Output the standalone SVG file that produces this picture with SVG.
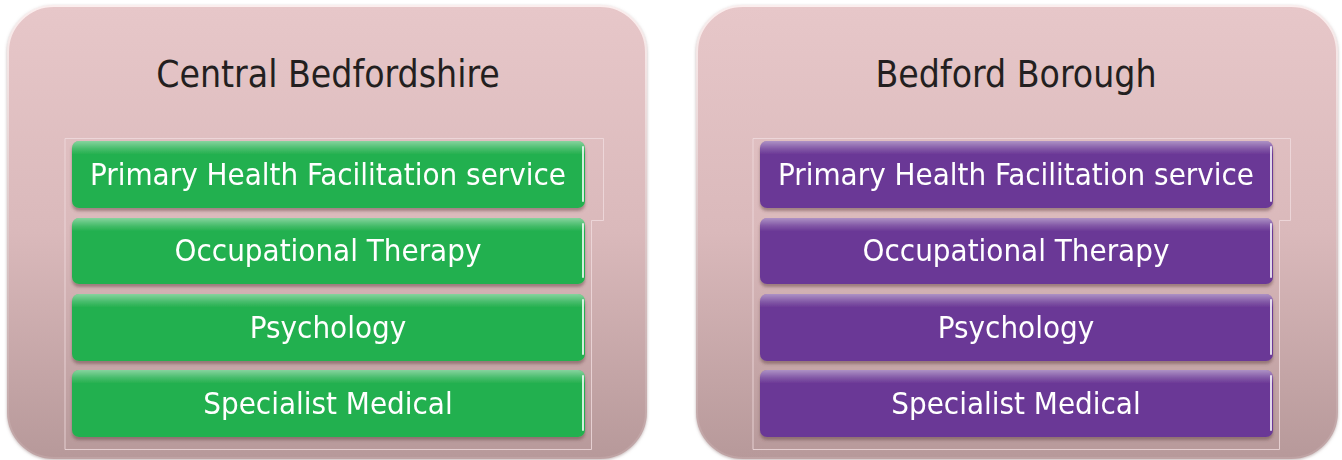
<svg xmlns="http://www.w3.org/2000/svg" width="1342" height="460" viewBox="0 0 1342 460">
  <style>
    .title { font-family: "DejaVu Sans Condensed", "DejaVu Sans", sans-serif; font-size: 37px; fill: #231f20; text-anchor: middle; }
    .label { font-family: "DejaVu Sans Condensed", "DejaVu Sans", sans-serif; font-size: 31px; fill: #ffffff; text-anchor: middle; }
    .frame { fill: none; stroke: #f0dcde; stroke-opacity: 0.8; stroke-width: 1; }
    .green { fill: #24b04f; }
    .purple { fill: #6b3996; }
    .gloss { fill: url(#gloss); }
    .edge { fill: none; stroke: #ffffff; stroke-opacity: 0.8; stroke-width: 2; stroke-linecap: round; }
  </style>
  <defs>
    <linearGradient id="panelFill" x1="0" y1="0" x2="0" y2="1">
      <stop offset="0" stop-color="#e7c7c9"/>
      <stop offset="0.5" stop-color="#dab9bb"/>
      <stop offset="1" stop-color="#b7999a"/>
    </linearGradient>
    <linearGradient id="panelEdge" x1="0" y1="0" x2="0" y2="1">
      <stop offset="0" stop-color="#fbeeee"/>
      <stop offset="1" stop-color="#bfa3a4"/>
    </linearGradient>
    <linearGradient id="gloss" x1="0" y1="0" x2="0" y2="1">
      <stop offset="0" stop-color="#ffffff" stop-opacity="0.45"/>
      <stop offset="0.12" stop-color="#ffffff" stop-opacity="0.15"/>
      <stop offset="0.2" stop-color="#ffffff" stop-opacity="0"/>
      <stop offset="1" stop-color="#ffffff" stop-opacity="0"/>
    </linearGradient>
    <filter id="panelShadow" x="-5%" y="-5%" width="110%" height="110%">
      <feDropShadow dx="0" dy="1" stdDeviation="1.5" flood-color="#8a6f70" flood-opacity="0.5"/>
    </filter>
    <filter id="boxShadow" x="-5%" y="-20%" width="110%" height="150%">
      <feDropShadow dx="0" dy="3" stdDeviation="1.5" flood-color="#5a3a3c" flood-opacity="0.45"/>
    </filter>
  </defs>

  <!-- Central Bedfordshire panel -->
  <g id="central-bedfordshire">
    <rect x="8" y="6" width="638" height="452" rx="46" fill="url(#panelFill)" stroke="url(#panelEdge)" stroke-width="2" filter="url(#panelShadow)"/>
    <text class="title" x="328" y="87">Central Bedfordshire</text>
    <path class="frame" d="M65 138.5 H603.5 V220.5 H591.5 V449.5 H65 Z"/>
  </g>

  <g id="cb-primary-health" filter="url(#boxShadow)">
    <rect class="green" x="72" y="141" width="513" height="67" rx="7"/>
    <rect class="gloss" x="72" y="141" width="513" height="67" rx="7"/>
    <path class="edge" d="M583 147 V201"/>
    <text class="label" x="328" y="185">Primary Health Facilitation service</text>
  </g>
  <g id="cb-occupational-therapy" filter="url(#boxShadow)">
    <rect class="green" x="72" y="218" width="513" height="66" rx="7"/>
    <rect class="gloss" x="72" y="218" width="513" height="66" rx="7"/>
    <path class="edge" d="M583 224 V277"/>
    <text class="label" x="328" y="261">Occupational Therapy</text>
  </g>
  <g id="cb-psychology" filter="url(#boxShadow)">
    <rect class="green" x="72" y="294" width="513" height="67" rx="7"/>
    <rect class="gloss" x="72" y="294" width="513" height="67" rx="7"/>
    <path class="edge" d="M583 300 V354"/>
    <text class="label" x="328" y="338">Psychology</text>
  </g>
  <g id="cb-specialist-medical" filter="url(#boxShadow)">
    <rect class="green" x="72" y="370" width="513" height="67" rx="7"/>
    <rect class="gloss" x="72" y="370" width="513" height="67" rx="7"/>
    <path class="edge" d="M583 376 V430"/>
    <text class="label" x="328" y="414">Specialist Medical</text>
  </g>

  <!-- Bedford Borough panel -->
  <g id="bedford-borough">
    <rect x="697" y="6" width="640" height="452" rx="46" fill="url(#panelFill)" stroke="url(#panelEdge)" stroke-width="2" filter="url(#panelShadow)"/>
    <text class="title" x="1016" y="87">Bedford Borough</text>
    <path class="frame" d="M753 138.5 H1290.5 V220.5 H1279.5 V449.5 H753 Z"/>
  </g>

  <g id="bb-primary-health" filter="url(#boxShadow)">
    <rect class="purple" x="760" y="141" width="513" height="67" rx="7"/>
    <rect class="gloss" x="760" y="141" width="513" height="67" rx="7"/>
    <path class="edge" d="M1271 147 V201"/>
    <text class="label" x="1016" y="185">Primary Health Facilitation service</text>
  </g>
  <g id="bb-occupational-therapy" filter="url(#boxShadow)">
    <rect class="purple" x="760" y="218" width="513" height="66" rx="7"/>
    <rect class="gloss" x="760" y="218" width="513" height="66" rx="7"/>
    <path class="edge" d="M1271 224 V277"/>
    <text class="label" x="1016" y="261">Occupational Therapy</text>
  </g>
  <g id="bb-psychology" filter="url(#boxShadow)">
    <rect class="purple" x="760" y="294" width="513" height="67" rx="7"/>
    <rect class="gloss" x="760" y="294" width="513" height="67" rx="7"/>
    <path class="edge" d="M1271 300 V354"/>
    <text class="label" x="1016" y="338">Psychology</text>
  </g>
  <g id="bb-specialist-medical" filter="url(#boxShadow)">
    <rect class="purple" x="760" y="370" width="513" height="67" rx="7"/>
    <rect class="gloss" x="760" y="370" width="513" height="67" rx="7"/>
    <path class="edge" d="M1271 376 V430"/>
    <text class="label" x="1016" y="414">Specialist Medical</text>
  </g>

  <!-- no connectors in this figure -->
  <g id="connectors"/>
</svg>
